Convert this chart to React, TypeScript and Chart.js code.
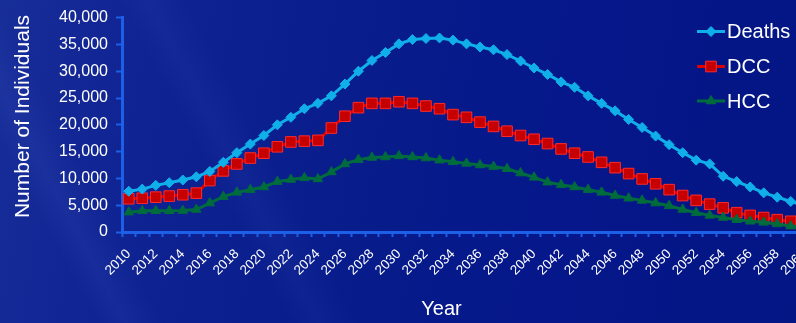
import React, { useEffect, useRef } from 'react';
import { Chart, registerables } from 'chart.js';

Chart.register(...registerables);

const years = [
  '2010', '2011', '2012', '2013', '2014', '2015', '2016', '2017', '2018', '2019',
  '2020', '2021', '2022', '2023', '2024', '2025', '2026', '2027', '2028', '2029',
  '2030', '2031', '2032', '2033', '2034', '2035', '2036', '2037', '2038', '2039',
  '2040', '2041', '2042', '2043', '2044', '2045', '2046', '2047', '2048', '2049',
  '2050', '2051', '2052', '2053', '2054', '2055', '2056', '2057', '2058', '2059',
  '2060',
];

const deaths = [
  7600, 8000, 8700, 9200, 9700, 10300, 11300, 13000, 14800, 16400,
  18000, 20000, 21400, 23000, 24000, 25400, 27600, 30000, 32000, 33500,
  35100, 35900, 36100, 36200, 35800, 35100, 34500, 34000, 33100, 31900,
  30600, 29400, 28000, 27000, 25400, 24000, 22600, 21000, 19500, 17900,
  16300, 14800, 13400, 12700, 10400, 9400, 8400, 7300, 6500, 5700,
  5000,
];

const dcc = [
  6200, 6300, 6500, 6700, 6950, 7250, 9600, 11400, 12700, 13800,
  14700, 15900, 16800, 16950, 17100, 19400, 21600, 23200, 24000, 24000,
  24300, 24000, 23500, 23000, 21900, 21400, 20500, 19700, 18800, 18000,
  17300, 16500, 15500, 14700, 14000, 13000, 12000, 10900, 9900, 9000,
  7900, 6800, 5900, 5200, 4500, 3600, 3100, 2700, 2300, 2000,
  1800,
];

const hcc = [
  3700, 3950, 3950, 3950, 4000, 4200, 5400, 6600, 7400, 7900,
  8400, 9400, 9800, 10100, 9900, 11200, 12700, 13500, 13900, 14000,
  14200, 14000, 13800, 13400, 13100, 12800, 12500, 12200, 11800, 11000,
  10200, 9300, 8800, 8400, 7900, 7400, 6800, 6300, 5900, 5400,
  4900, 4200, 3600, 3100, 2700, 2300, 2000, 1800, 1500, 1100,
  900,
];

const yTicks = [0, 5000, 10000, 15000, 20000, 25000, 30000, 35000, 40000];

const seriesNames = ['Deaths', 'DCC', 'HCC'];
const yTitle = 'Number of Individuals';
const xTitle = 'Year';

const FONT = '"Liberation Sans", Arial, Helvetica, sans-serif';
const AXIS_BLUE = '#1d5fe6';
const DEATHS_COLOR = '#10afea';
const DCC_LINE = '#dd0000';
const DCC_FILL = '#c60000';
const DCC_EDGE = '#ff2a2a';
const HCC_COLOR = '#006b3d';

function drawMarker(ctx: CanvasRenderingContext2D, style: string, x: number, y: number, r: number) {
  ctx.beginPath();
  if (style === 'rectRot') {
    ctx.moveTo(x - r, y);
    ctx.lineTo(x, y - r);
    ctx.lineTo(x + r, y);
    ctx.lineTo(x, y + r);
  } else if (style === 'rect') {
    const s = Math.SQRT1_2 * r;
    ctx.rect(x - s, y - s, 2 * s, 2 * s);
  } else {
    const h = r * 0.866;
    ctx.moveTo(x, y - r);
    ctx.lineTo(x + h, y + r / 2);
    ctx.lineTo(x - h, y + r / 2);
  }
  ctx.closePath();
  ctx.fill();
  ctx.stroke();
}

const overlayPlugin = {
  id: 'overlayText',
  afterDraw(chart: any) {
    const ctx: CanvasRenderingContext2D = chart.ctx;
    ctx.save();
    ctx.fillStyle = '#ffffff';
    // Y axis title
    ctx.font = `21px ${FONT}`;
    ctx.textAlign = 'center';
    ctx.textBaseline = 'alphabetic';
    ctx.save();
    ctx.translate(29, 116.5);
    ctx.rotate(-Math.PI / 2);
    ctx.fillText(yTitle, 0, 0);
    ctx.restore();
    // X axis title
    ctx.font = `20px ${FONT}`;
    ctx.fillText(xTitle, 441.5, 315);

    // Legend
    const items = chart.data.datasets;
    const ys = [31.5, 66.5, 101];
    items.forEach((ds: any, i: number) => {
      const y = ys[i];
      ctx.strokeStyle = ds.borderColor;
      ctx.lineWidth = 3;
      ctx.beginPath();
      ctx.moveTo(697, y);
      ctx.lineTo(725, y);
      ctx.stroke();
      ctx.fillStyle = ds.pointBackgroundColor;
      ctx.strokeStyle = ds.pointBorderColor;
      ctx.lineWidth = 1;
      drawMarker(ctx, ds.pointStyle, 711, y, ds.pointRadius);
      ctx.fillStyle = '#ffffff';
      ctx.font = `20px ${FONT}`;
      ctx.textAlign = 'left';
      ctx.textBaseline = 'middle';
      ctx.fillText(ds.label, 727, y + 1);
    });
    ctx.restore();
  },
};

export default function App() {
  const canvasRef = useRef<HTMLCanvasElement | null>(null);

  useEffect(() => {
    if (!canvasRef.current) return;
    const chart = new Chart(canvasRef.current, {
      type: 'line',
      data: {
        labels: years,
        datasets: [
          {
            label: seriesNames[0],
            data: deaths,
            borderColor: DEATHS_COLOR,
            backgroundColor: DEATHS_COLOR,
            pointBackgroundColor: DEATHS_COLOR,
            pointBorderColor: DEATHS_COLOR,
            pointStyle: 'rectRot',
            pointRadius: 5,
            pointBorderWidth: 1,
            borderWidth: 3,
            tension: 0,
            order: 0,
          },
          {
            label: seriesNames[1],
            data: dcc,
            borderColor: DCC_LINE,
            backgroundColor: DCC_FILL,
            pointBackgroundColor: DCC_FILL,
            pointBorderColor: DCC_EDGE,
            pointStyle: 'rect',
            pointRadius: 7.5,
            pointBorderWidth: 1,
            borderWidth: 3,
            tension: 0,
            order: 2,
          },
          {
            label: seriesNames[2],
            data: hcc,
            borderColor: HCC_COLOR,
            backgroundColor: HCC_COLOR,
            pointBackgroundColor: HCC_COLOR,
            pointBorderColor: HCC_COLOR,
            pointStyle: 'triangle',
            pointRadius: 5.5,
            pointBorderWidth: 1,
            borderWidth: 3,
            tension: 0,
            order: 1,
          },
        ],
      },
      options: {
        responsive: false,
        animation: false,
        events: [],
        layout: { padding: { left: 0, top: 15, right: 19, bottom: 0 } },
        plugins: {
          legend: { display: false },
          tooltip: { enabled: false },
          title: { display: false },
        },
        scales: {
          x: {
            type: 'category',
            offset: true,
            afterFit: (scale: any) => {
              scale.height = 91;
            },
            border: { display: true, color: AXIS_BLUE, width: 3 },
            grid: {
              display: true,
              offset: true,
              drawOnChartArea: false,
              drawTicks: true,
              tickLength: 5,
              tickWidth: 2,
              tickColor: AXIS_BLUE,
              color: AXIS_BLUE,
            },
            ticks: {
              autoSkip: false,
              minRotation: 45,
              maxRotation: 45,
              padding: 9,
              color: '#ffffff',
              font: { family: FONT, size: 13.5 },
              callback: (_v: any, index: number) => (index % 2 === 0 ? years[index] : ''),
            },
          },
          y: {
            type: 'linear',
            min: yTicks[0],
            max: yTicks[yTicks.length - 1],
            afterFit: (scale: any) => {
              scale.width = 122;
            },
            afterBuildTicks: (scale: any) => {
              scale.ticks = yTicks.map((v) => ({ value: v }));
            },
            border: { display: true, color: AXIS_BLUE, width: 3 },
            grid: {
              display: true,
              drawOnChartArea: false,
              drawTicks: true,
              tickLength: 6,
              tickWidth: 2,
              tickColor: AXIS_BLUE,
              color: AXIS_BLUE,
            },
            ticks: {
              padding: 8,
              color: '#ffffff',
              font: { family: FONT, size: 16 },
              callback: (v: any) => Number(v).toLocaleString('en-US'),
            },
          },
        },
      },
      plugins: [overlayPlugin],
    } as any);
    return () => chart.destroy();
  }, []);

  return (
    <div
      style={{
        position: 'fixed',
        left: 0,
        top: 0,
        width: 796,
        height: 323,
        overflow: 'hidden',
        background:
          'linear-gradient(62deg, rgba(255,255,255,0) 10%, rgba(120,150,255,0.07) 13%, rgba(255,255,255,0) 17%, rgba(255,255,255,0) 30%, rgba(120,150,255,0.05) 33%, rgba(255,255,255,0) 37%), linear-gradient(100deg, #172d98 0%, #0e2292 22%, #081c8b 45%, #05178a 70%, #041684 100%)',
      }}
    >
      <canvas ref={canvasRef} width={830} height={323} style={{ display: 'block' }} />
    </div>
  );
}
